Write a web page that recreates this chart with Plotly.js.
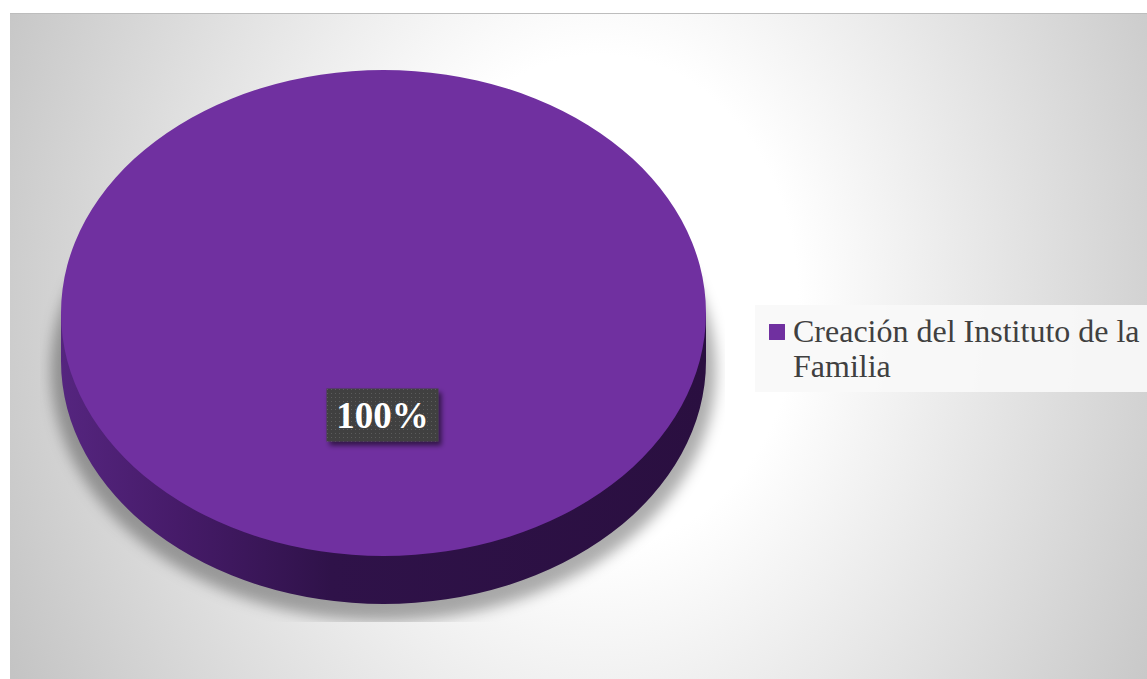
<!DOCTYPE html>
<html>
<head>
<meta charset="utf-8">
<script src="https://cdn.plot.ly/plotly-3.0.1.min.js"></script>
<style>
  html, body { margin:0; padding:0; background:#ffffff; }
  #frame {
    position:absolute; left:10px; top:13px; width:1137px; height:666px;
    border-top:1px solid #bdbdbd; box-sizing:border-box;
    background: radial-gradient(ellipse 660px 820px at 590px 287px, #ffffff 0%, #ffffff 30%, #c4c4c4 100%);
  }
  #chart { position:absolute; left:0; top:0; width:1147px; height:679px; }
</style>
</head>
<body>
<div id="frame"></div>
<div id="chart"></div>
<script>
// ---- data ----
const labels = ['Creación del Instituto de la Familia'];
const values = [100];
const sliceColors = ['#7030A0'];

// ---- geometry (pixels) ----
const W = 1147, H = 679;
const PIE_LEFT = 61, PIE_RIGHT = 706;
const TOP_CY = 313, SIDE_DEPTH = 48, RY = 243;

function wrap(s, n) {
  const words = s.split(' ');
  const lines = [];
  let cur = '';
  words.forEach(w => {
    if ((cur + ' ' + w).trim().length > n) { lines.push(cur.trim()); cur = w; }
    else cur = (cur + ' ' + w).trim();
  });
  if (cur) lines.push(cur);
  return lines.join('<br>');
}
const shownLabels = labels.map(l => wrap(l, 28));
const total = values.reduce((a, b) => a + b, 0);
const pctText = Math.round(values[0] / total * 100) + '%';

const domain = { x: [PIE_LEFT / W, PIE_RIGHT / W], y: [0, 1] };

const sideTrace = {
  type: 'pie', labels: shownLabels, values: values, sort: false,
  marker: { colors: ['#2d1145'], line: { width: 0 } },
  textinfo: 'none', hoverinfo: 'skip', showlegend: false, domain: domain
};
const topTrace = {
  type: 'pie', labels: shownLabels, values: values, sort: false,
  marker: { colors: sliceColors, line: { width: 0 } },
  textinfo: 'none', showlegend: true, domain: domain
};

const layout = {
  width: W, height: H,
  margin: { l: 0, r: 0, t: 0, b: 0 },
  paper_bgcolor: 'rgba(0,0,0,0)',
  showlegend: true,
  legend: {
    x: 755 / W, y: 1 - 305 / H, xanchor: 'left', yanchor: 'top',
    bgcolor: 'rgba(248,248,248,0.92)', borderwidth: 0,
    font: { family: 'Liberation Serif', size: 32, color: '#404040' }
  },
  shapes: [
    { type: 'circle', xref: 'paper', yref: 'paper', layer: 'below',
      x0: 51 / W, x1: 716 / W, y0: 1 - 621 / H, y1: 1 - 120 / H,
      fillcolor: 'rgba(0,0,0,0.32)', line: { width: 0 } },
    { type: 'rect', xref: 'paper', yref: 'paper', layer: 'below',
      x0: PIE_LEFT / W, x1: PIE_RIGHT / W,
      y0: 1 - (TOP_CY + SIDE_DEPTH) / H, y1: 1 - TOP_CY / H,
      fillcolor: '#3a1558', line: { width: 0 } }
  ],
  annotations: [{
    x: 382.5 / W, y: 1 - 415 / H, xref: 'paper', yref: 'paper',
    text: pctText, showarrow: false,
    font: { family: 'Liberation Serif', size: 37, color: '#ffffff', weight: 'bold' },
    bgcolor: '#404040', borderpad: 4, width: 103, height: 44
  }]
};

function shiftTo(el, targetX, targetY, useCenter) {
  const r = el.getBoundingClientRect();
  const cx = useCenter ? r.left + r.width / 2 : r.left;
  const cy = useCenter ? r.top + r.height / 2 : r.top;
  const dx = targetX - cx, dy = targetY - cy;
  const prev = el.getAttribute('transform') || '';
  el.setAttribute('transform', 'translate(' + dx + ',' + dy + ') ' + prev);
}

const gd = document.getElementById('chart');
Plotly.newPlot(gd, [sideTrace, topTrace], layout, { staticPlot: true }).then(() => {
  const svg = gd.querySelector('.main-svg');
  const defs = svg.querySelector('defs');
  defs.insertAdjacentHTML('beforeend',
    '<linearGradient id="sideGrad" gradientUnits="userSpaceOnUse" x1="' + PIE_LEFT + '" y1="0" x2="' + PIE_RIGHT + '" y2="0">' +
      '<stop offset="0" stop-color="#55257f"/>' +
      '<stop offset="0.18" stop-color="#461b69"/>' +
      '<stop offset="0.42" stop-color="#2f1249"/>' +
      '<stop offset="1" stop-color="#2a0f40"/>' +
    '</linearGradient>' +
    '<filter id="shBlur" x="-10%" y="-10%" width="120%" height="120%"><feGaussianBlur stdDeviation="7"/></filter>' +
    '<clipPath id="shClip" clipPathUnits="userSpaceOnUse"><rect x="40" y="0" width="685" height="622"/></clipPath>' +
    '<pattern id="dots" patternUnits="userSpaceOnUse" width="4" height="4">' +
      '<rect width="4" height="4" fill="#3f3f3f"/><rect x="1" y="1" width="1" height="1" fill="#5c5c5c"/>' +
    '</pattern>' +
    '<filter id="boxShadow" x="-20%" y="-20%" width="150%" height="160%"><feDropShadow dx="3" dy="4" stdDeviation="2.5" flood-color="#000" flood-opacity="0.55"/></filter>'
  );

  const k = RY / ((PIE_RIGHT - PIE_LEFT) / 2);
  const cy0 = H / 2;
  const traces = gd.querySelectorAll('.pielayer .trace');
  const centers = [TOP_CY + SIDE_DEPTH, TOP_CY];
  traces.forEach((t, i) => {
    t.setAttribute('transform', 'translate(0,' + centers[i] + ') scale(1,' + k + ') translate(0,' + (-cy0) + ')');
  });
  traces[0].querySelectorAll('path.surface').forEach(p => { p.style.fill = 'url(#sideGrad)'; });

  const shp = gd.querySelectorAll('.layer-below .shapelayer path');
  if (shp[0]) { shp[0].setAttribute('filter', 'url(#shBlur)'); shp[0].setAttribute('clip-path', 'url(#shClip)'); }
  if (shp[1]) { shp[1].style.fill = 'url(#sideGrad)'; }

  const bg = gd.querySelector('.annotation rect.bg');
  if (bg) { bg.style.fill = 'url(#dots)'; bg.setAttribute('filter', 'url(#boxShadow)'); }

  // legend fine-tuning: symbol size/position, line spacing, box height
  const lt = gd.querySelector('.legend .legendtext');
  if (lt) {
    lt.querySelectorAll('tspan.line').forEach((ts, i) => {
      if (i > 0) ts.setAttribute('dy', '35px');
    });
    const r = lt.getBoundingClientRect();
    const topTarget = 342 - 0.891 * 32;
    lt.setAttribute('transform', 'translate(' + (793 - r.left) + ',' + (topTarget - r.top) + ')');
  }
  const sym = gd.querySelector('.legend .legendpoints path');
  if (sym) {
    const prev = sym.getAttribute('transform') || '';
    sym.setAttribute('transform', prev + ' scale(1.33)');
    shiftTo(sym, 777, 332, true);
  }
  const lbg = gd.querySelector('.legend rect.bg');
  if (lbg) { lbg.setAttribute('height', 87); lbg.setAttribute('width', 400); }
});
</script>
</body>
</html>
